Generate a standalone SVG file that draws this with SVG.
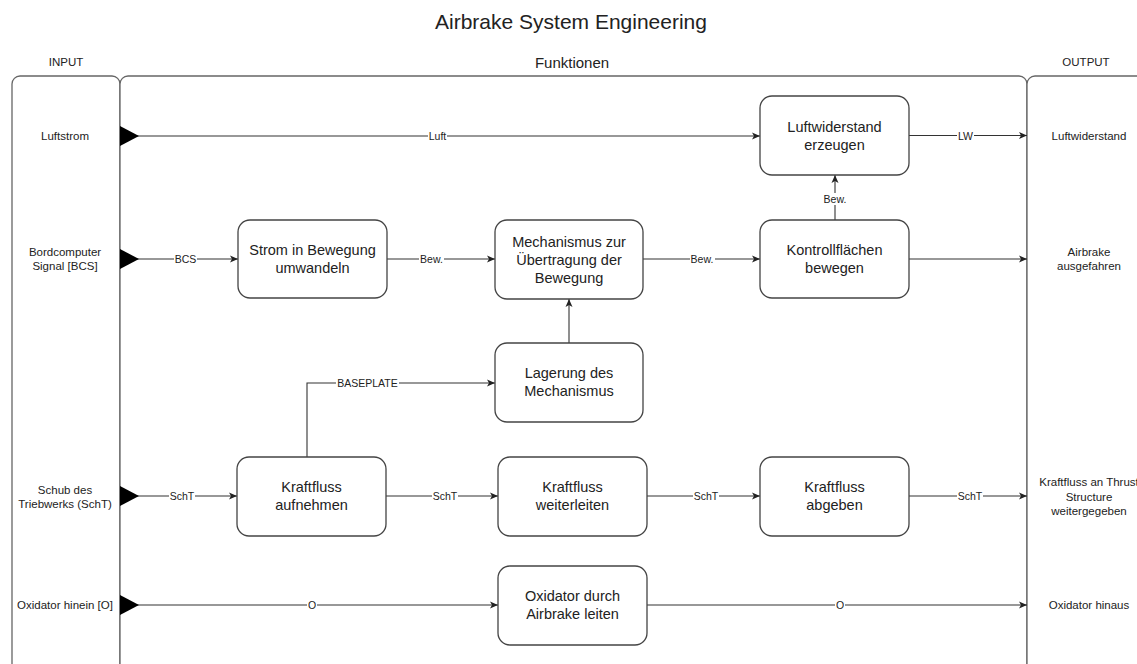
<svg xmlns="http://www.w3.org/2000/svg" width="1137" height="664" viewBox="0 0 1137 664">
  <defs>
    <style>
      text { font-family: "Liberation Sans", Arial, sans-serif; fill: #222; text-anchor: middle; dominant-baseline: central; }
      .title { font-size: 21px; }
      .lane-title { font-size: 11.5px; }
      .lane-head { font-size: 15px; }
      .io { font-size: 11.5px; }
      .box { fill: #fff; stroke: #444; stroke-width: 1.3; }
      .box-text { font-size: 14.5px; }
      .lane { fill: #fff; stroke: #666; stroke-width: 1.3; }
      .edge { fill: none; stroke: #333; stroke-width: 1.1; }
      .edge-label { font-size: 10.5px; }
      .label-bg { fill: #fff; }
    </style>
    <marker id="arrow" markerWidth="9" markerHeight="8" refX="8" refY="4" orient="auto" markerUnits="userSpaceOnUse">
      <path d="M0,0.5 L8,4 L0,7.5 L2,4 Z" fill="#222"/>
    </marker>
    <marker id="block" markerWidth="20" markerHeight="21" refX="0" refY="10.5" orient="auto" markerUnits="userSpaceOnUse">
      <path d="M0,0.5 L19,10.5 L0,20.5 Z" fill="#000"/>
    </marker>
  </defs>

  <rect width="1137" height="664" fill="#fff"/>

  <!-- Title -->
  <text class="title" x="571" y="21">Airbrake System Engineering</text>

  <!-- Swimlanes -->
  <g id="lane-input">
    <rect class="lane" x="12" y="76" width="108" height="598" rx="8"/>
    <text class="lane-title" x="66" y="62">INPUT</text>
  </g>
  <g id="lane-functions">
    <rect class="lane" x="120" y="76" width="907" height="598" rx="8"/>
    <text class="lane-head" x="572" y="62">Funktionen</text>
  </g>
  <g id="lane-output">
    <rect class="lane" x="1027" y="76" width="130" height="598" rx="8"/>
    <text class="lane-title" x="1086" y="62">OUTPUT</text>
  </g>

  <!-- Inputs -->
  <g id="in-luftstrom"><text class="io" x="65" y="136">Luftstrom</text></g>
  <g id="in-bcs">
    <text class="io" x="65" y="252">Bordcomputer</text>
    <text class="io" x="65" y="266">Signal [BCS]</text>
  </g>
  <g id="in-scht">
    <text class="io" x="65" y="490">Schub des</text>
    <text class="io" x="65" y="504">Triebwerks (SchT)</text>
  </g>
  <g id="in-oxidator"><text class="io" x="65" y="605">Oxidator hinein [O]</text></g>

  <!-- Outputs -->
  <g id="out-luftwiderstand"><text class="io" x="1089" y="136">Luftwiderstand</text></g>
  <g id="out-airbrake">
    <text class="io" x="1089" y="252">Airbrake</text>
    <text class="io" x="1089" y="266">ausgefahren</text>
  </g>
  <g id="out-kraftfluss">
    <text class="io" x="1089" y="482">Kraftfluss an Thrust</text>
    <text class="io" x="1089" y="497">Structure</text>
    <text class="io" x="1089" y="511">weitergegeben</text>
  </g>
  <g id="out-oxidator"><text class="io" x="1089" y="605">Oxidator hinaus</text></g>

  <!-- Connectors -->
  <g id="connectors">
    <path class="edge" d="M120,136 L760,136" marker-start="url(#block)" marker-end="url(#arrow)"/>
    <path class="edge" d="M909,135.5 L1027,135.5" marker-end="url(#arrow)"/>
    <path class="edge" d="M835,220 L835,175" marker-end="url(#arrow)"/>

    <path class="edge" d="M120,259 L238,259" marker-start="url(#block)" marker-end="url(#arrow)"/>
    <path class="edge" d="M387,259 L495,259" marker-end="url(#arrow)"/>
    <path class="edge" d="M643,259 L760,259" marker-end="url(#arrow)"/>
    <path class="edge" d="M909,259 L1027,259" marker-end="url(#arrow)"/>

    <path class="edge" d="M569,343 L569,299" marker-end="url(#arrow)"/>
    <path class="edge" d="M307,457 L307,383 L495,383" marker-end="url(#arrow)"/>

    <path class="edge" d="M120,496 L237,496" marker-start="url(#block)" marker-end="url(#arrow)"/>
    <path class="edge" d="M386,496 L498,496" marker-end="url(#arrow)"/>
    <path class="edge" d="M647,496 L760,496" marker-end="url(#arrow)"/>
    <path class="edge" d="M909,496 L1027,496" marker-end="url(#arrow)"/>

    <path class="edge" d="M120,605 L498,605" marker-start="url(#block)" marker-end="url(#arrow)"/>
    <path class="edge" d="M647,605 L1027,605" marker-end="url(#arrow)"/>

    <!-- connector labels -->
    <rect class="label-bg" x="428" y="130" width="19" height="12"/>
    <text class="edge-label" x="437.5" y="136">Luft</text>
    <rect class="label-bg" x="957" y="129.5" width="17" height="12"/>
    <text class="edge-label" x="965.5" y="135.5">LW</text>
    <rect class="label-bg" x="823" y="193" width="25" height="12"/>
    <text class="edge-label" x="835" y="199">Bew.</text>
    <rect class="label-bg" x="174" y="253" width="23" height="12"/>
    <text class="edge-label" x="185.5" y="259">BCS</text>
    <rect class="label-bg" x="419" y="253" width="25" height="12"/>
    <text class="edge-label" x="431.5" y="259">Bew.</text>
    <rect class="label-bg" x="690" y="253" width="25" height="12"/>
    <text class="edge-label" x="702" y="259">Bew.</text>
    <rect class="label-bg" x="336" y="377" width="63" height="12"/>
    <text class="edge-label" x="367.5" y="383">BASEPLATE</text>
    <rect class="label-bg" x="169" y="490" width="26" height="12"/>
    <text class="edge-label" x="182" y="496">SchT</text>
    <rect class="label-bg" x="432" y="490" width="26" height="12"/>
    <text class="edge-label" x="445" y="496">SchT</text>
    <rect class="label-bg" x="693" y="490" width="26" height="12"/>
    <text class="edge-label" x="706" y="496">SchT</text>
    <rect class="label-bg" x="957" y="490" width="26" height="12"/>
    <text class="edge-label" x="970" y="496">SchT</text>
    <rect class="label-bg" x="307" y="599" width="10" height="12"/>
    <text class="edge-label" x="312" y="605">O</text>
    <rect class="label-bg" x="835" y="599" width="10" height="12"/>
    <text class="edge-label" x="840" y="605">O</text>
  </g>

  <!-- Function nodes -->
  <g id="node-luftwiderstand">
    <rect class="box" x="760" y="96" width="149" height="79" rx="12"/>
    <text class="box-text" x="834.5" y="127">Luftwiderstand</text>
    <text class="box-text" x="834.5" y="145">erzeugen</text>
  </g>
  <g id="node-strom">
    <rect class="box" x="238" y="220" width="149" height="78" rx="12"/>
    <text class="box-text" x="312.5" y="250">Strom in Bewegung</text>
    <text class="box-text" x="312.5" y="268">umwandeln</text>
  </g>
  <g id="node-mechanismus">
    <rect class="box" x="495" y="220" width="148" height="79" rx="12"/>
    <text class="box-text" x="569" y="242">Mechanismus zur</text>
    <text class="box-text" x="569" y="260">Übertragung der</text>
    <text class="box-text" x="569" y="278">Bewegung</text>
  </g>
  <g id="node-kontrollflaechen">
    <rect class="box" x="760" y="220" width="149" height="78" rx="12"/>
    <text class="box-text" x="834.5" y="250">Kontrollflächen</text>
    <text class="box-text" x="834.5" y="268">bewegen</text>
  </g>
  <g id="node-lagerung">
    <rect class="box" x="495" y="343" width="148" height="79" rx="12"/>
    <text class="box-text" x="569" y="373">Lagerung des</text>
    <text class="box-text" x="569" y="391">Mechanismus</text>
  </g>
  <g id="node-aufnehmen">
    <rect class="box" x="237" y="457" width="149" height="79" rx="12"/>
    <text class="box-text" x="311.5" y="487">Kraftfluss</text>
    <text class="box-text" x="311.5" y="505">aufnehmen</text>
  </g>
  <g id="node-weiterleiten">
    <rect class="box" x="498" y="457" width="149" height="79" rx="12"/>
    <text class="box-text" x="572.5" y="487">Kraftfluss</text>
    <text class="box-text" x="572.5" y="505">weiterleiten</text>
  </g>
  <g id="node-abgeben">
    <rect class="box" x="760" y="457" width="149" height="79" rx="12"/>
    <text class="box-text" x="834.5" y="487">Kraftfluss</text>
    <text class="box-text" x="834.5" y="505">abgeben</text>
  </g>
  <g id="node-oxidator">
    <rect class="box" x="498" y="566" width="149" height="79" rx="12"/>
    <text class="box-text" x="572.5" y="596">Oxidator durch</text>
    <text class="box-text" x="572.5" y="614">Airbrake leiten</text>
  </g>
</svg>
